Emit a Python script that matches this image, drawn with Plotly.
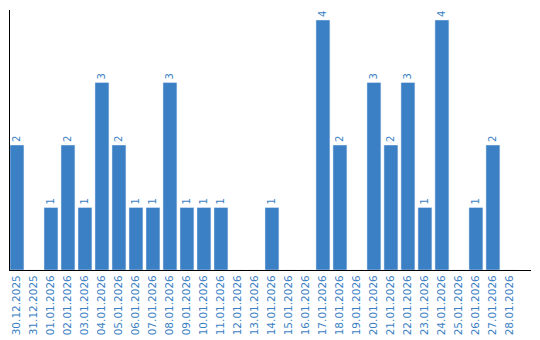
import plotly.graph_objects as go

dates = ["30.12.2025", "31.12.2025", "01.01.2026", "02.01.2026", "03.01.2026",
         "04.01.2026", "05.01.2026", "06.01.2026", "07.01.2026", "08.01.2026",
         "09.01.2026", "10.01.2026", "11.01.2026", "12.01.2026", "13.01.2026",
         "14.01.2026", "15.01.2026", "16.01.2026", "17.01.2026", "18.01.2026",
         "19.01.2026", "20.01.2026", "21.01.2026", "22.01.2026", "23.01.2026",
         "24.01.2026", "25.01.2026", "26.01.2026", "27.01.2026", "28.01.2026"]
counts = [2, 0, 1, 2, 1, 3, 2, 1, 1, 3, 1, 1, 1, 0, 0,
          1, 0, 0, 4, 2, 0, 3, 2, 3, 1, 4, 0, 1, 2, 0]

blue = "#3b7fc4"
labels = [str(v) if v else "" for v in counts]

fig = go.Figure(go.Bar(
    x=dates, y=counts, marker_color=blue, width=0.82,
    text=labels, textposition="outside", textangle=-90,
    textfont=dict(color=blue, size=10, family="DejaVu Sans"),
    cliponaxis=False,
))
fig.update_layout(
    width=540, height=340,
    margin=dict(l=10, r=9, t=10, b=70),
    plot_bgcolor="white", paper_bgcolor="white",
    showlegend=False,
    font=dict(family="DejaVu Sans", size=10, color=blue),
)
fig.update_xaxes(type="category", range=[-0.41, 30.24], showline=True, linecolor="black",
                 linewidth=1, tickangle=-90, ticks="", showgrid=False, automargin=False,
                 tickfont=dict(color=blue, size=10.5, family="DejaVu Sans"))
fig.update_yaxes(range=[0, 4.16], showline=True, linecolor="black", linewidth=1,
                 showticklabels=False, ticks="", showgrid=False, zeroline=False,
                 automargin=False)
fig.write_html("out.html")
